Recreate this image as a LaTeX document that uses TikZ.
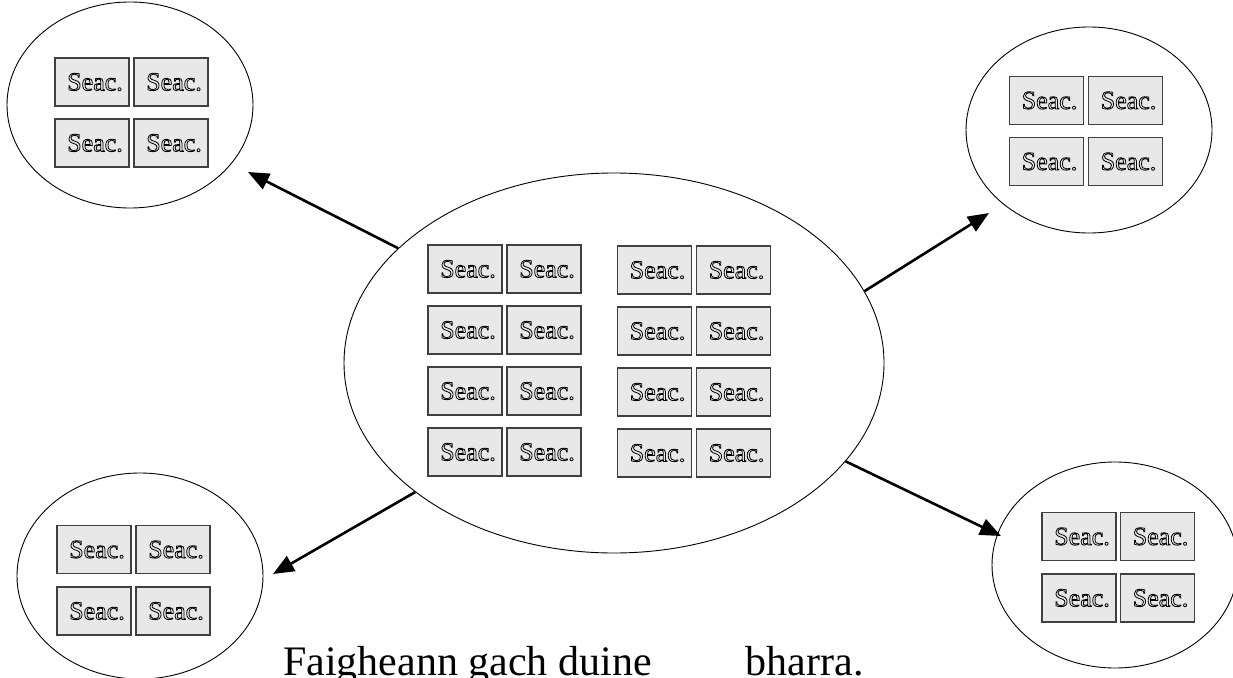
\documentclass[tikz,border=0pt]{standalone}
\usepackage{fontspec}
\setmainfont{Liberation Serif}
\usetikzlibrary{shapes.geometric,arrows.meta}
\newcommand\outlinetext[1]{\special{pdf:literal direct 0 G 1 Tr 0.8 w}#1\special{pdf:literal direct 0 Tr}}
\newcommand\seactxt{\hspace*{6pt}\outlinetext{Seac.}}
\tikzset{
  grp/.style={draw=black,line width=0.9pt,ellipse,inner sep=0pt},
  seacbox/.style={draw=black!75,line width=1.1pt,fill=black!9,minimum width=74pt,minimum height=48pt,inner sep=0pt,font=\fontsize{26}{26}\selectfont},
  bigarrow/.style={line width=2.6pt,-{Triangle[length=21pt,width=17pt]}},
}
\begin{document}
\begin{tikzpicture}[x=1pt,y=-1pt]
\useasboundingbox (0,0) rectangle (1233,677);
% group ellipses
\node[grp,minimum width=540pt,minimum height=380pt] (c) at (614,363) {};
\node[grp,minimum width=246pt,minimum height=206pt] (tl) at (130,105) {};
\node[grp,minimum width=246pt,minimum height=206pt] (tr) at (1089,130) {};
\node[grp,minimum width=246pt,minimum height=206pt] (bl) at (140,576) {};
\node[grp,minimum width=246pt,minimum height=206pt] (br) at (1115,565) {};
% central boxes
\foreach \r/\y in {1/269,2/330,3/391,4/452}{
  \node[seacbox] (ca\r) at (465,\y) {\seactxt};
  \node[seacbox] (cb\r) at (544,\y) {\seactxt};
}
\foreach \r/\y in {1/270,2/331,3/392,4/453}{
  \node[seacbox] (cc\r) at (654.5,\y) {\seactxt};
  \node[seacbox] (cd\r) at (733.5,\y) {\seactxt};
}
% top left
\node[seacbox] (tl1) at (92,82) {\seactxt};
\node[seacbox] (tl2) at (171,82) {\seactxt};
\node[seacbox] (tl3) at (92,143) {\seactxt};
\node[seacbox] (tl4) at (171,143) {\seactxt};
% top right
\node[seacbox] (tr1) at (1046.5,100.5) {\seactxt};
\node[seacbox] (tr2) at (1125.5,100.5) {\seactxt};
\node[seacbox] (tr3) at (1046.5,161.5) {\seactxt};
\node[seacbox] (tr4) at (1125.5,161.5) {\seactxt};
% bottom left
\node[seacbox] (bl1) at (94,549.5) {\seactxt};
\node[seacbox] (bl2) at (173,549.5) {\seactxt};
\node[seacbox] (bl3) at (94,611) {\seactxt};
\node[seacbox] (bl4) at (173,611) {\seactxt};
% bottom right
\node[seacbox] (br1) at (1079,536.5) {\seactxt};
\node[seacbox] (br2) at (1157.5,536.5) {\seactxt};
\node[seacbox] (br3) at (1079,598) {\seactxt};
\node[seacbox] (br4) at (1157.5,598) {\seactxt};
% arrow tips
\coordinate (tltip) at (248,172);
\coordinate (trtip) at (989,213);
\coordinate (bltip) at (273,574);
\coordinate (brtip) at (1001,536);
\draw[bigarrow] (c.152.5) -- (tltip);
\draw[bigarrow] (c.16.1) -- (trtip);
\draw[bigarrow] (c.213.2) -- (bltip);
\draw[bigarrow] (c.337.6) -- (brtip);
% caption
\node[anchor=base west,inner sep=0pt,font=\fontsize{42}{42}\selectfont] (cap) at (283,675) {Faigheann gach duine\hspace{94pt}bharra.};
\end{tikzpicture}
\end{document}
